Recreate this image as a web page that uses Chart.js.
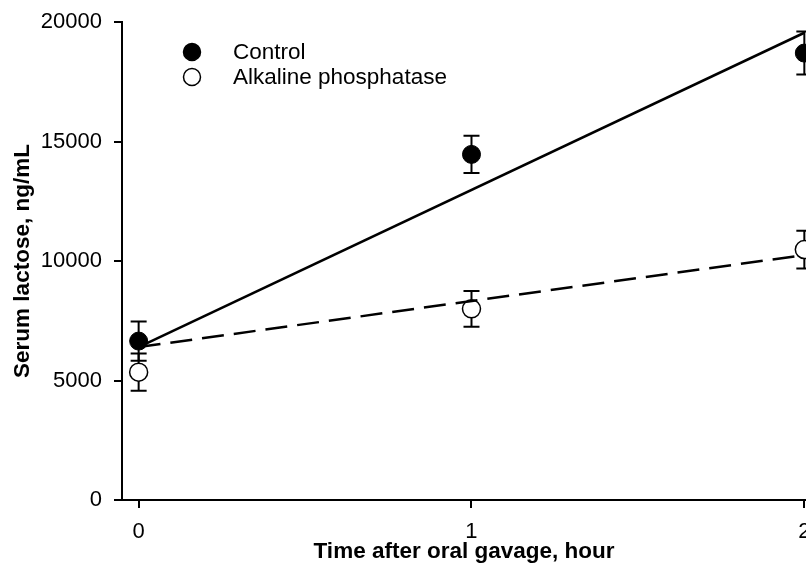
<!DOCTYPE html>
<html>
<head>
<meta charset="utf-8">
<script src="https://cdn.jsdelivr.net/npm/chart.js@4.4.1/dist/chart.umd.min.js"></script>
<style>
  html, body { margin: 0; padding: 0; background: #fff; }
  canvas { display: block; }
</style>
</head>
<body>
<canvas id="chart" width="806" height="569"></canvas>
<script>
const FONT = 'Liberation Sans, Arial, Helvetica, sans-serif';

// time points (hours)
const hours = [0, 1, 2];
const controlMean = [6650, 14460, 18700];
const controlErr = [820, 780, 900];
const alkMean = [5350, 8000, 10480];
const alkErr = [780, 750, 790];

// fitted regression lines
const fitHours = [0, 2];
const controlFit = [6400, 19550];
const alkFit = [6400, 10250];

const xTicks = [0, 1, 2];
const yTicks = [0, 5000, 10000, 15000, 20000];

const legendItems = [
  { label: 'Control', fill: '#000' },
  { label: 'Alkaline phosphatase', fill: '#fff' },
];

const toPoints = (xs, ys) => xs.map((x, i) => ({ x: x, y: ys[i] }));

// vertical error bars, drawn under the markers
const errorBars = {
  id: 'errorBars',
  beforeDatasetsDraw(chart) {
    const ctx = chart.ctx;
    const xs = chart.scales.x;
    const ys = chart.scales.y;
    ctx.save();
    ctx.strokeStyle = '#000';
    ctx.lineWidth = 2;
    [[controlMean, controlErr], [alkMean, alkErr]].forEach(([means, errs]) => {
      hours.forEach((h, i) => {
        const px = xs.getPixelForValue(h);
        const top = ys.getPixelForValue(means[i] + errs[i]);
        const bot = ys.getPixelForValue(means[i] - errs[i]);
        ctx.beginPath();
        ctx.moveTo(px, top);
        ctx.lineTo(px, bot);
        ctx.moveTo(px - 8, top);
        ctx.lineTo(px + 8, top);
        ctx.moveTo(px - 8, bot);
        ctx.lineTo(px + 8, bot);
        ctx.stroke();
      });
    });
    ctx.restore();
  }
};

const insideLegend = {
  id: 'insideLegend',
  afterDraw(chart) {
    const ctx = chart.ctx;
    const area = chart.chartArea;
    ctx.save();
    ctx.font = '22.5px ' + FONT;
    ctx.textBaseline = 'middle';
    ctx.fillStyle = '#000';
    legendItems.forEach((item, i) => {
      const cx = area.left + 70;
      const cy = area.top + 30 + i * 25;
      ctx.beginPath();
      ctx.arc(cx, cy, 8.5, 0, Math.PI * 2);
      ctx.fillStyle = item.fill;
      ctx.fill();
      ctx.lineWidth = 1.5;
      ctx.strokeStyle = '#000';
      ctx.stroke();
      ctx.fillStyle = '#000';
      ctx.fillText(item.label, cx + 41, cy + 1);
    });
    ctx.restore();
  }
};

new Chart(document.getElementById('chart'), {
  type: 'scatter',
  data: {
    datasets: [
      {
        label: 'Control fit',
        data: toPoints(fitHours, controlFit),
        showLine: true,
        borderColor: '#000',
        borderWidth: 2.5,
        pointRadius: 0,
      },
      {
        label: 'Alkaline phosphatase fit',
        data: toPoints(fitHours, alkFit),
        showLine: true,
        borderColor: '#000',
        borderWidth: 2.5,
        borderDash: [22, 10],
        pointRadius: 0,
      },
      {
        label: 'Control',
        data: toPoints(hours, controlMean),
        pointRadius: 9,
        pointBackgroundColor: '#000',
        pointBorderColor: '#000',
        pointBorderWidth: 1,
      },
      {
        label: 'Alkaline phosphatase',
        data: toPoints(hours, alkMean),
        pointRadius: 9,
        pointBackgroundColor: '#fff',
        pointBorderColor: '#000',
        pointBorderWidth: 1.5,
      },
    ],
  },
  options: {
    responsive: false,
    animation: false,
    devicePixelRatio: 1,
    layout: { autoPadding: false, padding: { top: 22, right: 0, bottom: 0, left: 0 } },
    plugins: {
      legend: { display: false },
      tooltip: { enabled: false },
    },
    scales: {
      x: {
        type: 'linear',
        min: -0.05,
        max: 2.005,
        afterBuildTicks: (scale) => { scale.ticks = xTicks.map(v => ({ value: v })); },
        afterFit: (scale) => {
          scale.height = 69;
          scale.paddingLeft = 0;
          scale.paddingRight = 0;
        },
        border: { display: true, color: '#000', width: 2 },
        grid: { drawOnChartArea: false, drawTicks: true, tickLength: 8, color: '#000', lineWidth: 2 },
        ticks: {
          color: '#000',
          padding: 11,
          maxRotation: 0,
          font: { family: FONT, size: 22 },
          callback: (v) => String(v),
        },
        title: {
          display: true,
          text: 'Time after oral gavage, hour',
          color: '#000',
          padding: { top: 0, bottom: 4 },
          font: { family: FONT, size: 22.5, weight: 'bold' },
        },
      },
      y: {
        type: 'linear',
        min: 0,
        max: 20000,
        afterBuildTicks: (scale) => { scale.ticks = yTicks.map(v => ({ value: v })); },
        afterFit: (scale) => {
          scale.width = 122;
          scale.paddingTop = 0;
          scale.paddingBottom = 0;
        },
        border: { display: true, color: '#000', width: 2 },
        grid: { drawOnChartArea: false, drawTicks: true, tickLength: 8, color: '#000', lineWidth: 2 },
        ticks: {
          color: '#000',
          padding: 12,
          font: { family: FONT, size: 22 },
          callback: (v) => String(v),
        },
        title: {
          display: true,
          text: 'Serum lactose, ng/mL',
          color: '#000',
          padding: { top: 9, bottom: 0 },
          font: { family: FONT, size: 22.5, weight: 'bold' },
        },
      },
    },
  },
  plugins: [errorBars, insideLegend],
});
</script>
</body>
</html>
